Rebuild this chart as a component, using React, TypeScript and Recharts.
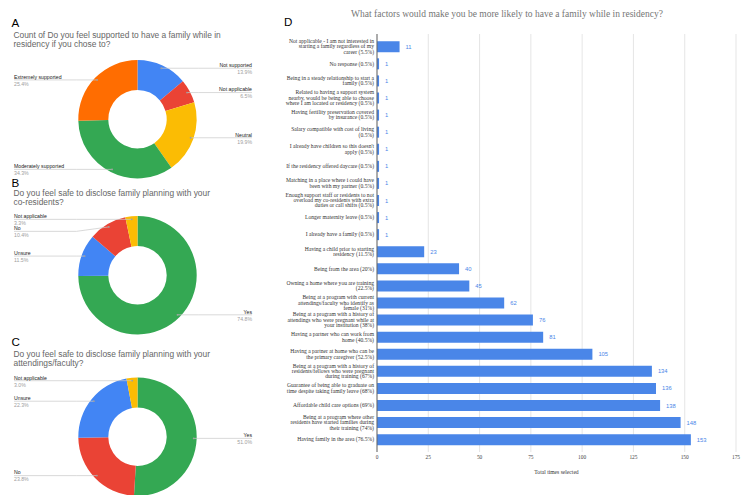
import { PieChart, Pie, Cell, BarChart, Bar, XAxis, YAxis, CartesianGrid, LabelList } from "recharts";

const SANS = "'Liberation Sans', Arial, sans-serif";
const SERIF = "'Liberation Serif', 'Times New Roman', serif";

const BLUE = "#4285f4";
const RED = "#ea4335";
const YELLOW = "#fbbc04";
const GREEN = "#34a853";
const ORANGE = "#ff6d01";
const BAR_BLUE = "#4a86e8";

// A: supported to have a family
const supportLabels = ["Not supported", "Not applicable", "Neutral", "Moderately supported", "Extremely supported"];
const supportValues = [13.9, 6.5, 19.9, 34.3, 25.4];
const supportColors = [BLUE, RED, YELLOW, GREEN, ORANGE];

// B: disclose to co-residents
const coResidentLabels = ["Yes", "Unsure", "No", "Not applicable"];
const coResidentValues = [74.8, 11.5, 10.4, 3.3];
const coResidentColors = [GREEN, BLUE, RED, YELLOW];

// C: disclose to attendings/faculty
const facultyLabels = ["Yes", "No", "Unsure", "Not applicable"];
const facultyValues = [51.0, 23.8, 22.3, 3.0];
const facultyColors = [GREEN, RED, BLUE, YELLOW];

// D: factors
const factorLabels = [
  "Not applicable - I am not interested in\nstarting a family regardless of my\ncareer (5.5%)",
  "No response (0.5%)",
  "Being in a steady relationship to start a\nfamily (0.5%)",
  "Related to having a support system\nnearby, would be being able to choose\nwhere I am located or residency (0.5%)",
  "Having fertility preservation covered\nby insurance (0.5%)",
  "Salary compatible with cost of living\n(0.5%)",
  "I already have children so this doesn't\napply (0.5%)",
  "If the residency offered daycare (0.5%)",
  "Matching in a place where i could have\nbeen with my partner (0.5%)",
  "Enough support staff or residents to not\noverload my co-residents with extra\nduties or call shifts (0.5%)",
  "Longer maternity leave (0.5%)",
  "I already have a family (0.5%)",
  "Having a child prior to starting\nresidency (11.5%)",
  "Being from the area (20%)",
  "Owning a home where you are training\n(22.5%)",
  "Being at a program with current\nattendings/faculty who identify as\nfemale (31%)",
  "Being at a program with a history of\nattendings who were pregnant while at\nyour institution (38%)",
  "Having a partner who can work from\nhome (40.5%)",
  "Having a partner at home who can be\nthe primary caregiver (52.5%)",
  "Being at a program with a history of\nresidents/fellows who were pregnant\nduring training (67%)",
  "Guarantee of being able to graduate on\ntime despite taking family leave (68%)",
  "Affordable child care options (69%)",
  "Being at a program where other\nresidents have started families during\ntheir training (74%)",
  "Having family in the area (76.5%)",
];
const factorCounts = [11, 1, 1, 1, 1, 1, 1, 1, 1, 1, 1, 1, 23, 40, 45, 62, 76, 81, 105, 134, 136, 138, 148, 153];
const countTicks = [0, 25, 50, 75, 100, 125, 150, 175];

const factorData = factorLabels.map((name, i) => ({ name, value: factorCounts[i] }));

// Anchor points on each slice, with label rows pushed apart per side
function pieLabelLayout(values: number[], cx: number, cy: number, r: number) {
  const total = values.reduce((a, b) => a + b, 0);
  let acc = 0;
  const pts = values.map((v) => {
    const mid = 90 - ((acc + v / 2) / total) * 360;
    acc += v;
    const rad = (mid * Math.PI) / 180;
    const x = cx + r * Math.cos(rad);
    const y = cy - r * Math.sin(rad);
    return { x, y, ly: y, right: x > cx };
  });
  [true, false].forEach((side) => {
    const idx = pts
      .map((_, i) => i)
      .filter((i) => pts[i].right === side)
      .sort((a, b) => pts[a].y - pts[b].y);
    let prev = -Infinity;
    idx.forEach((i) => {
      pts[i].ly = Math.max(pts[i].y, prev + 12);
      prev = pts[i].ly;
    });
  });
  return pts;
}

interface DonutProps {
  letter: string;
  title: string[];
  labels: string[];
  values: number[];
  colors: string[];
  letterTop: number;
  titleTop: number;
  top: number;
  height: number;
  cy: number;
}

function Donut({ letter, title, labels, values, colors, letterTop, titleTop, top, height, cy }: DonutProps) {
  const data = labels.map((name, i) => ({ name, value: values[i] }));

  const renderLabel = (props: any) => {
    const { cx, cy: pcy, outerRadius, index } = props;
    const p = pieLabelLayout(values, cx, pcy, outerRadius * 0.95)[index];
    const kneeX = p.right ? cx + outerRadius + 2 : cx - outerRadius - 2;
    const endX = p.right ? 252 : 14;
    const anchor = p.right ? "end" : "start";
    return (
      <g key={`lbl-${index}`}>
        <polyline
          points={`${p.x},${p.y} ${kneeX},${p.ly} ${endX},${p.ly}`}
          fill="none"
          stroke="#c8c8c8"
          strokeWidth={0.7}
        />
        <circle cx={p.x} cy={p.y} r={0.9} fill="#a0a0a0" />
        <text x={endX} y={p.ly - 1.2} textAnchor={anchor} fontSize={5.2} fill="#222" fontFamily={SANS}>
          {labels[index]}
        </text>
        <text x={endX} y={p.ly + 5.8} textAnchor={anchor} fontSize={5.2} fill="#9e9e9e" fontFamily={SANS}>
          {values[index].toFixed(1)}%
        </text>
      </g>
    );
  };

  return (
    <>
      <div style={{ position: "absolute", left: 11.5, top: letterTop, fontFamily: SANS, fontSize: 11.6, lineHeight: "12px", color: "#000" }}>
        {letter}
      </div>
      <div style={{ position: "absolute", left: 13.5, top: titleTop, fontFamily: SANS, fontSize: 8.4, lineHeight: "9px", color: "#666", whiteSpace: "nowrap" }}>
        {title.map((t) => (
          <div key={t}>{t}</div>
        ))}
      </div>
      <div style={{ position: "absolute", left: 0, top }}>
        <PieChart width={260} height={height}>
          <Pie
            data={data}
            dataKey="value"
            nameKey="name"
            cx={132.5}
            cy={cy}
            innerRadius={29.2}
            outerRadius={59.2}
            startAngle={90}
            endAngle={-270}
            stroke="none"
            labelLine={false}
            label={renderLabel}
            isAnimationActive={false}
          >
            {data.map((d, i) => (
              <Cell key={d.name} fill={colors[i]} />
            ))}
          </Pie>
        </PieChart>
      </div>
    </>
  );
}

const FactorTick = (props: any) => {
  const { x, y, payload } = props;
  const lines = String(payload.value).split("\n");
  const lh = 5.3;
  const startY = y - ((lines.length - 1) * lh) / 2 + 1.9;
  return (
    <text x={x} y={startY} textAnchor="end" fontSize={5.6} fill="#333" fontFamily={SERIF}>
      {lines.map((l, i) => (
        <tspan key={i} x={x} dy={i === 0 ? 0 : lh}>
          {l}
        </tspan>
      ))}
    </text>
  );
};

export default function App() {
  return (
    <div style={{ position: "absolute", left: 0, top: 0, width: 750, height: 499, overflow: "hidden", background: "#fff" }}>
      <Donut
        letter="A"
        title={["Count of Do you feel supported to have a family while in", "residency if you chose to?"]}
        labels={supportLabels}
        values={supportValues}
        colors={supportColors}
        letterTop={16.7}
        titleTop={31.4}
        top={50}
        height={135}
        cy={64.2}
      />
      <Donut
        letter="B"
        title={["Do you feel safe to disclose family planning with your", "co-residents?"]}
        labels={coResidentLabels}
        values={coResidentValues}
        colors={coResidentColors}
        letterTop={176.7}
        titleTop={188.8}
        top={205}
        height={135}
        cy={65.3}
      />
      <Donut
        letter="C"
        title={["Do you feel safe to disclose family planning with your", "attendings/faculty?"]}
        labels={facultyLabels}
        values={facultyValues}
        colors={facultyColors}
        letterTop={335.7}
        titleTop={349.8}
        top={365}
        height={130}
        cy={66.7}
      />

      <div style={{ position: "absolute", left: 284, top: 15.7, fontFamily: SANS, fontSize: 11.6, lineHeight: "12px", color: "#000" }}>
        D
      </div>
      <svg style={{ position: "absolute", left: 0, top: 0 }} width={750} height={30}>
        <text x={507} y={16.5} textAnchor="middle" fontSize={9.5} fill="#757575" fontFamily={SERIF}>
          What factors would make you be more likely to have a family while in residency?
        </text>
      </svg>

      <div style={{ position: "absolute", left: 280, top: 0 }}>
        <BarChart
          width={470}
          height={499}
          data={factorData}
          layout="vertical"
          margin={{ top: 34, right: 14, bottom: 25, left: 0 }}
          barCategoryGap="19%"
        >
          <CartesianGrid horizontal={false} stroke="#dedede" strokeWidth={0.8} />
          <XAxis
            type="number"
            domain={[0, 175]}
            ticks={countTicks}
            axisLine={false}
            tickLine={false}
            tickSize={0}
            tickMargin={3}
            height={22}
            tick={{ fontSize: 5.4, fill: "#444", fontFamily: SERIF }}
            label={{ value: "Total times selected", position: "insideBottom", offset: 0, fontSize: 5.6, fill: "#333", fontFamily: SERIF }}
          />
          <YAxis
            type="category"
            dataKey="name"
            width={97}
            interval={0}
            axisLine={{ stroke: "#666", strokeWidth: 1 }}
            tickLine={false}
            tickSize={0}
            tickMargin={3}
            padding={{ top: 4, bottom: 4 }}
            tick={<FactorTick />}
          />
          <Bar dataKey="value" fill={BAR_BLUE} isAnimationActive={false}>
            <LabelList dataKey="value" position="right" offset={6} fontSize={5.8} fill={BAR_BLUE} fontFamily={SANS} />
          </Bar>
        </BarChart>
      </div>
    </div>
  );
}
